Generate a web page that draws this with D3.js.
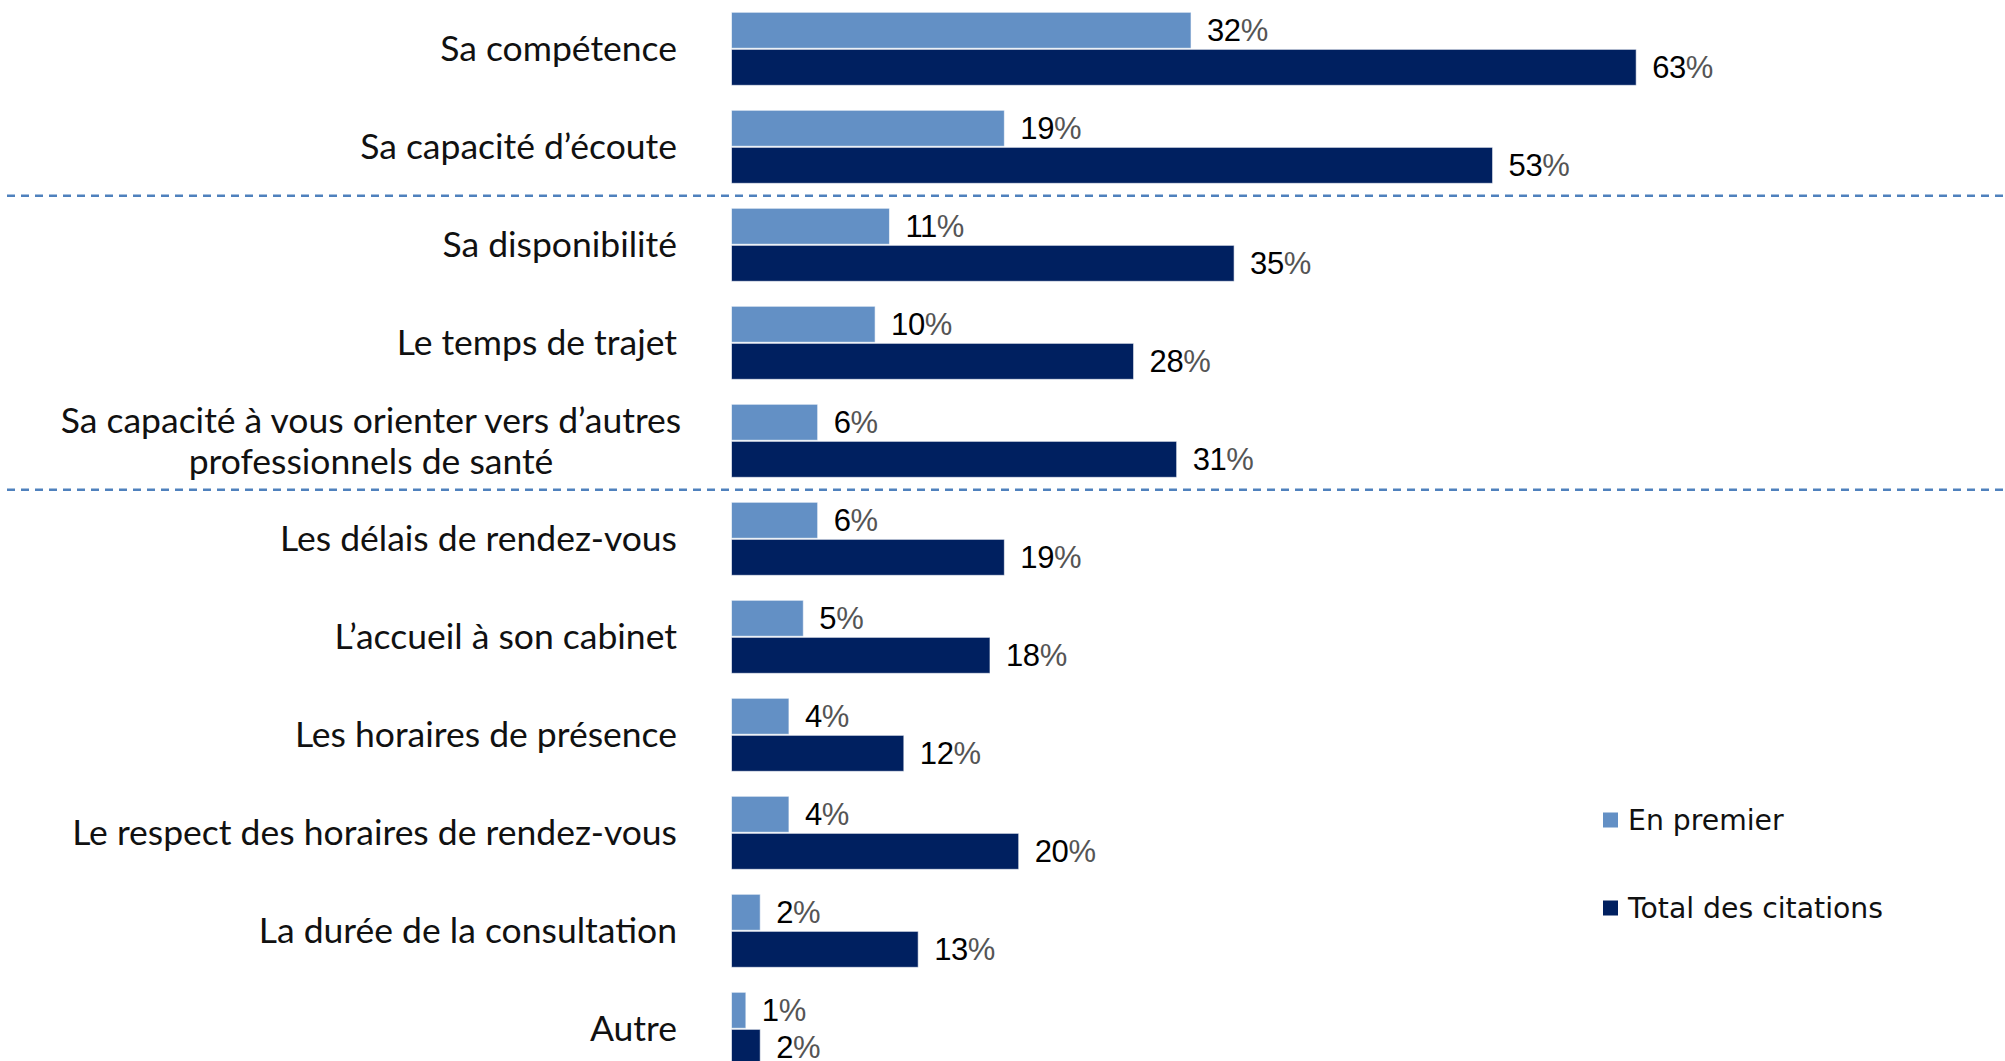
<!DOCTYPE html>
<html>
<head>
<meta charset="utf-8">
<script src="https://cdnjs.cloudflare.com/ajax/libs/d3/7.8.5/d3.min.js"></script>
<style>
  html, body { margin: 0; padding: 0; background: #fff; overflow: hidden; }
  svg { display: block; }
</style>
</head>
<body>
<svg id="chart" width="2005" height="1061"></svg>
<script>
// data
const categories = [
    "Sa compétence",
    "Sa capacité d’écoute",
    "Sa disponibilité",
    "Le temps de trajet",
    "Sa capacité à vous orienter vers d’autres|professionnels de santé",
    "Les délais de rendez-vous",
    "L’accueil à son cabinet",
    "Les horaires de présence",
    "Le respect des horaires de rendez-vous",
    "La durée de la consultation",
    "Autre"
]
const series = ["En premier", "Total des citations"]
const enPremier = [32, 19, 11, 10, 6, 6, 5, 4, 4, 2, 1]
const totalCitations = [63, 53, 35, 28, 31, 19, 18, 12, 20, 13, 2]
const separatorsAfter = [1, 4]

const colors = { "En premier": "#6390c5", "Total des citations": "#002060" }

const svg = d3.select('#chart')

const x = d3.scaleLinear().domain([0, 100]).range([731.5, 731.5 + 1436])

const y0 = d3.scaleBand()
    .domain(categories)
    .range([-0.2, 1077.8])
    .paddingInner(0.255)
    .paddingOuter(0.1275)

const y1 = d3.scaleBand()
    .domain(series)
    .range([0, y0.bandwidth()])
    .paddingInner(0.03)

let rows = categories.map((c, i) => ({
    cat: c,
    values: [
        { key: series[0], v: enPremier[i] },
        { key: series[1], v: totalCitations[i] }
    ]
}))

// dashed separators
let gap = y0.step() - y0.bandwidth()
svg.append('g').attr('class', 'separators')
    .selectAll('line')
    .data(separatorsAfter)
    .join('line')
    .attr('x1', 7)
    .attr('x2', 2005)
    .attr('y1', d => y0(categories[d + 1]) - gap / 2)
    .attr('y2', d => y0(categories[d + 1]) - gap / 2)
    .attr('stroke', '#4f81bd')
    .attr('stroke-width', 2.5)
    .attr('stroke-dasharray', '8 6')

// bars
let groups = svg.append('g').attr('class', 'bars')
    .selectAll('g')
    .data(rows)
    .join('g')
    .attr('transform', d => `translate(0,${y0(d.cat)})`)

groups.selectAll('rect')
    .data(d => d.values)
    .join('rect')
    .attr('x', x(0))
    .attr('y', d => y1(d.key))
    .attr('width', d => x(d.v) - x(0))
    .attr('height', y1.bandwidth())
    .attr('fill', d => colors[d.key])
    .attr('stroke', '#ffffff')
    .attr('stroke-opacity', 0.6)
    .attr('stroke-width', 1)

// value labels
let labels = groups.selectAll('text')
    .data(d => d.values)
    .join('text')
    .attr('x', d => x(d.v) + 16)
    .attr('y', d => y1(d.key) + y1.bandwidth() / 2)
    .attr('dy', '0.36em')
    .attr('font-family', '"Liberation Sans Narrow", "Arial Narrow", sans-serif')
    .attr('font-size', '31px')
    .attr('letter-spacing', '-0.4')
    .attr('fill', '#000')
labels.append('tspan').text(d => d.v)
labels.append('tspan').attr('fill', '#555').text('%')

// category labels
let catLabels = svg.append('g').attr('class', 'categories')
    .selectAll('text')
    .data(categories)
    .join('text')
    .attr('font-family', 'Lato, "Noto Sans", sans-serif')
    .attr('font-size', '35.5px')
    .attr('fill', '#111')
    .each(function (d) {
        let parts = d.split('|')
        let t = d3.select(this)
        let cy = y0(d) + y0.bandwidth() / 2
        if (parts.length === 1) {
            t.attr('text-anchor', 'end')
                .attr('x', 677)
                .attr('y', cy)
                .attr('dy', '0.35em')
                .text(d)
        } else {
            t.attr('text-anchor', 'middle')
            parts.forEach((p, k) => {
                t.append('tspan')
                    .attr('x', 371)
                    .attr('y', cy + (k - (parts.length - 1) / 2) * 41)
                    .attr('dy', '0.35em')
                    .text(p)
            })
        }
    })

// legend
let legend = svg.append('g').attr('class', 'legend')
    .selectAll('g')
    .data(series)
    .join('g')
    .attr('transform', (d, i) => `translate(1603,${820 + i * 88})`)

legend.append('rect')
    .attr('x', 0)
    .attr('y', -7.5)
    .attr('width', 15)
    .attr('height', 15)
    .attr('fill', d => colors[d])

legend.append('text')
    .attr('x', 25)
    .attr('y', 0)
    .attr('dy', '0.36em')
    .attr('font-family', '"DejaVu Sans", sans-serif')
    .attr('font-size', '28.3px')
    .attr('fill', '#111')
    .text(d => d)
</script>
</body>
</html>
